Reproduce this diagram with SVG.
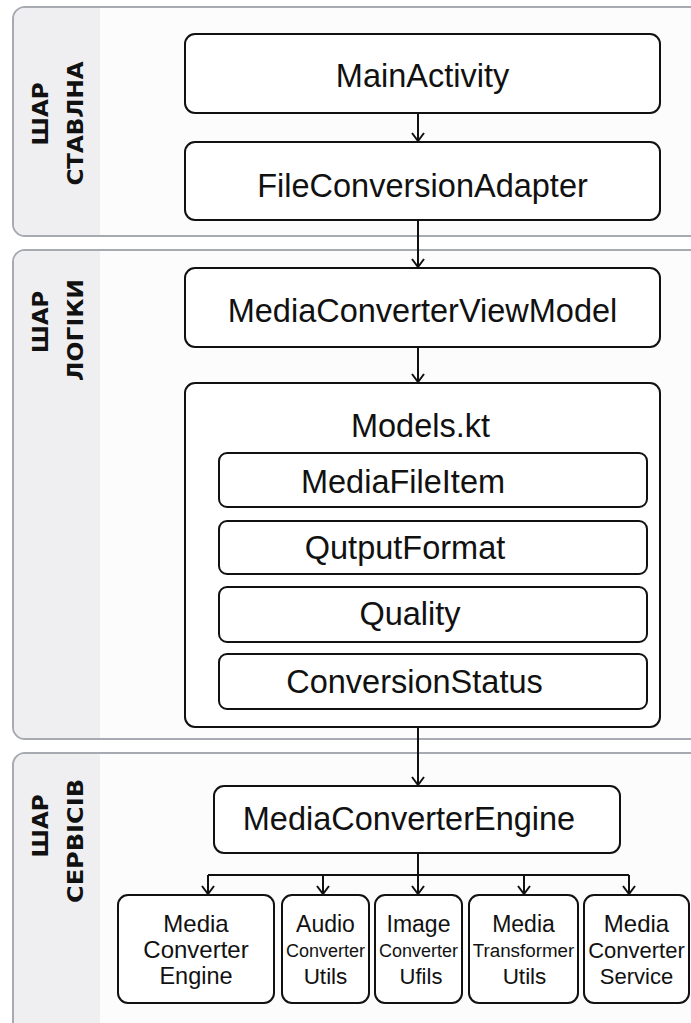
<svg xmlns="http://www.w3.org/2000/svg" width="691" height="1023" viewBox="0 0 691 1023">
  <defs>
    <style>
      .panel { fill: #fcfcfd; stroke: #a7aab0; stroke-width: 2; }
      .strip { fill: #efeff2; }
      .layer { font-family: "DejaVu Sans", "Liberation Sans", sans-serif; font-weight: bold; font-size: 21.5px; fill: #111; }
      .box { fill: #ffffff; stroke: #111; stroke-width: 2; }
      .lbl { font-family: "Liberation Sans", Arial, sans-serif; font-size: 32.5px; fill: #111; text-anchor: middle; }
      .sm { font-family: "Liberation Sans", Arial, sans-serif; fill: #111; text-anchor: middle; }
      .wire { fill: none; stroke: #111; stroke-width: 2; }
    </style>
    <marker id="arrow" viewBox="0 0 10 14" refX="9" refY="7" markerWidth="10" markerHeight="14" markerUnits="userSpaceOnUse" orient="auto">
      <path d="M1,1 L9,7 L1,13" fill="none" stroke="#111" stroke-width="2"/>
    </marker>
  </defs>

  <!-- Layer panels -->
  <g id="layer-presentation">
    <rect class="panel" x="13" y="7" width="700" height="229" rx="12"/>
    <path class="strip" d="M25,8 H100 V235 H25 A11,11 0 0 1 14,224 V19 A11,11 0 0 1 25,8 Z"/>
    <text class="layer" transform="translate(47.5,114) rotate(-90)" text-anchor="middle" textLength="63" lengthAdjust="spacingAndGlyphs">ШАР</text>
    <text class="layer" transform="translate(82.5,123.5) rotate(-90)" text-anchor="middle" textLength="124" lengthAdjust="spacingAndGlyphs">СТАВЛНА</text>
  </g>
  <g id="layer-logic">
    <rect class="panel" x="13" y="250" width="700" height="489" rx="12"/>
    <path class="strip" d="M25,251 H100 V738 H25 A11,11 0 0 1 14,727 V262 A11,11 0 0 1 25,251 Z"/>
    <text class="layer" transform="translate(47.5,322) rotate(-90)" text-anchor="middle" textLength="62" lengthAdjust="spacingAndGlyphs">ШАР</text>
    <text class="layer" transform="translate(82.5,330) rotate(-90)" text-anchor="middle" textLength="102" lengthAdjust="spacingAndGlyphs">ЛОГІКИ</text>
  </g>
  <g id="layer-services">
    <rect class="panel" x="13" y="753" width="700" height="300" rx="12"/>
    <path class="strip" d="M25,754 H100 V1052 H14 V765 A11,11 0 0 1 25,754 Z"/>
    <text class="layer" transform="translate(47.5,826) rotate(-90)" text-anchor="middle" textLength="63" lengthAdjust="spacingAndGlyphs">ШАР</text>
    <text class="layer" transform="translate(82.5,841) rotate(-90)" text-anchor="middle" textLength="124" lengthAdjust="spacingAndGlyphs">СЕРВІСІВ</text>
  </g>

  <!-- Connectors -->
  <g id="connectors">
    <path class="wire" d="M418,113 V141" marker-end="url(#arrow)"/>
    <path class="wire" d="M418,220 V267" marker-end="url(#arrow)"/>
    <path class="wire" d="M418,347 V382" marker-end="url(#arrow)"/>
    <path class="wire" d="M418,727 V785" marker-end="url(#arrow)"/>
    <path class="wire" d="M418,853 V894" marker-end="url(#arrow)"/>
    <path class="wire" d="M208,875 H629"/>
    <path class="wire" d="M208,875 V894" marker-end="url(#arrow)"/>
    <path class="wire" d="M323,875 V894" marker-end="url(#arrow)"/>
    <path class="wire" d="M524,875 V894" marker-end="url(#arrow)"/>
    <path class="wire" d="M629,875 V894" marker-end="url(#arrow)"/>
  </g>

  <!-- Presentation nodes -->
  <g id="main-activity">
    <rect class="box" x="185" y="34" width="475" height="79" rx="10"/>
    <text class="lbl" x="422.5" y="87">MainActivity</text>
  </g>
  <g id="file-conversion-adapter">
    <rect class="box" x="185" y="142" width="475" height="78" rx="10"/>
    <text class="lbl" x="422.5" y="197">FileConversionAdapter</text>
  </g>

  <!-- Logic nodes -->
  <g id="media-converter-view-model">
    <rect class="box" x="185" y="268" width="475" height="79" rx="10"/>
    <text class="lbl" x="422.5" y="322">MediaConverterViewModel</text>
  </g>
  <g id="models-kt">
    <rect class="box" x="185" y="383" width="475" height="344" rx="10"/>
    <text class="lbl" x="420.5" y="437">Models.kt</text>
  </g>
  <g id="media-file-item">
    <rect class="box" x="219" y="453" width="428" height="54" rx="8"/>
    <text class="lbl" x="403" y="493">MediaFileItem</text>
  </g>
  <g id="output-format">
    <rect class="box" x="219" y="521" width="428" height="53" rx="8"/>
    <text class="lbl" x="405" y="559">QutputFormat</text>
  </g>
  <g id="quality">
    <rect class="box" x="219" y="587" width="428" height="55" rx="8"/>
    <text class="lbl" x="410" y="625">Quality</text>
  </g>
  <g id="conversion-status">
    <rect class="box" x="219" y="654" width="428" height="55" rx="8"/>
    <text class="lbl" x="414.5" y="693">ConversionStatus</text>
  </g>

  <!-- Service nodes -->
  <g id="media-converter-engine">
    <rect class="box" x="214" y="786" width="406" height="67" rx="10"/>
    <text class="lbl" x="409" y="830">MediaConverterEngine</text>
  </g>
  <g id="engine-module">
    <rect class="box" x="118" y="895" width="156" height="108" rx="10"/>
    <text class="sm" x="196" y="932" font-size="24">Media</text>
    <text class="sm" x="196" y="958" font-size="24">Converter</text>
    <text class="sm" x="196" y="984" font-size="23.5">Engine</text>
  </g>
  <g id="audio-converter-utils">
    <rect class="box" x="282" y="895" width="87" height="108" rx="10"/>
    <text class="sm" x="325.5" y="932" font-size="23">Audio</text>
    <text class="sm" x="325.5" y="957" font-size="18">Converter</text>
    <text class="sm" x="325.5" y="984" font-size="22.5">Utils</text>
  </g>
  <g id="image-converter-utils">
    <rect class="box" x="375" y="895" width="87" height="108" rx="10"/>
    <text class="sm" x="418.5" y="932" font-size="23">Image</text>
    <text class="sm" x="418.5" y="957" font-size="18">Converter</text>
    <text class="sm" x="421" y="984" font-size="22">Ufils</text>
  </g>
  <g id="media-transformer-utils">
    <rect class="box" x="469" y="895" width="109" height="108" rx="10"/>
    <text class="sm" x="523.5" y="932" font-size="23">Media</text>
    <text class="sm" x="523.5" y="957" font-size="18.8">Transformer</text>
    <text class="sm" x="524.5" y="984" font-size="22.5">Utils</text>
  </g>
  <g id="media-converter-service">
    <rect class="box" x="584" y="895" width="105" height="108" rx="10"/>
    <text class="sm" x="636.5" y="932" font-size="24">Media</text>
    <text class="sm" x="636.5" y="958" font-size="22">Converter</text>
    <text class="sm" x="636.5" y="984" font-size="22">Service</text>
  </g>
</svg>
